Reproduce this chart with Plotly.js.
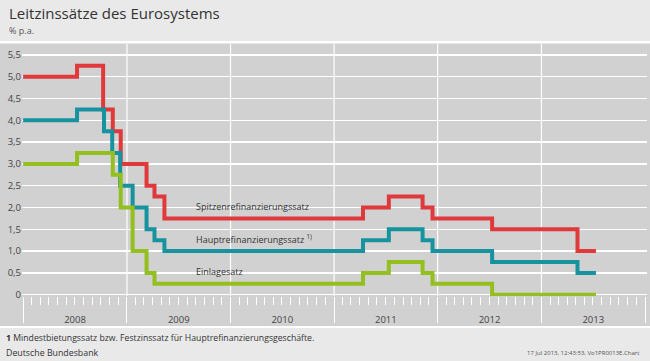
<!DOCTYPE html>
<html>
<head>
<meta charset="utf-8">
<script src="https://cdn.plot.ly/plotly-3.0.1.min.js"></script>
<style>html,body{margin:0;padding:0;background:#e9e9e9;}#chart{width:650px;height:361px;}</style>
</head>
<body>
<div id="chart"></div>
<script>
// Spitzenrefinanzierungssatz (marginal lending)
const spitzenDates = ['2008-01-01','2008-07-09','2008-10-09','2008-11-12','2008-12-10','2009-03-11','2009-04-08','2009-05-13','2011-04-13','2011-07-13','2011-11-09','2011-12-14','2012-07-11','2013-05-08','2013-07-12'];
const spitzenValues = [5.00,5.25,4.25,3.75,3.00,2.50,2.25,1.75,2.00,2.25,2.00,1.75,1.50,1.00,1.00];
// Hauptrefinanzierungssatz (main refinancing)
const hauptDates = ['2008-01-01','2008-07-09','2008-10-12','2008-11-10','2008-12-08','2009-01-21','2009-03-11','2009-04-08','2009-05-13','2011-04-13','2011-07-13','2011-11-09','2011-12-14','2012-07-11','2013-05-08','2013-07-12'];
const hauptValues = [4.00,4.25,3.75,3.25,2.50,2.00,1.50,1.25,1.00,1.25,1.50,1.25,1.00,0.75,0.50,0.50];
// Einlagesatz (deposit)
const einlageDates = ['2008-01-01','2008-07-09','2008-11-12','2008-12-10','2009-01-21','2009-03-11','2009-04-08','2011-04-13','2011-07-13','2011-11-09','2011-12-14','2012-07-11','2013-07-12'];
const einlageValues = [3.00,3.25,2.75,2.00,1.00,0.50,0.25,0.50,0.75,0.50,0.25,0.00,0.00];

const yTickVals = [0,0.5,1,1.5,2,2.5,3,3.5,4,4.5,5,5.5];
const yTickText = ['0','0,5','1,0','1,5','2,0','2,5','3,0','3,5','4,0','4,5','5,0','5,5'];
const yearGrid = ['2009-01-01','2010-01-01','2011-01-01','2012-01-01','2013-01-01'];

const seriesNames = ['Spitzenrefinanzierungssatz','Hauptrefinanzierungssatz <sup>1)</sup>','Einlagesatz'];
const labelDates = ['2009-08-24','2009-08-24','2009-08-24'];
const labelValues = [2.03,1.27,0.54];

const FONT = 'Open Sans, Noto Sans, sans-serif';
const colors = ['#e0393c','#16939f','#93c01f'];

const traces = [
  {x: spitzenDates, y: spitzenValues},
  {x: hauptDates, y: hauptValues},
  {x: einlageDates, y: einlageValues}
].map((t,i)=>({x:t.x, y:t.y, type:'scatter', mode:'lines', line:{shape:'hv', color:colors[i], width:4}, hoverinfo:'skip', showlegend:false}));

const px2px = v => (v-22)/625;     // pixel x -> paper x
const py2py = v => (296-v)/252;    // pixel y -> paper y

const shapes = [
  {type:'rect', xref:'paper', yref:'paper', x0:px2px(0), x1:px2px(650), y0:py2py(328), y1:py2py(41), fillcolor:'#ffffff', line:{width:0}, layer:'below'},
  {type:'rect', xref:'paper', yref:'paper', x0:px2px(0), x1:px2px(650), y0:py2py(326), y1:py2py(43.5), fillcolor:'#d1d1d1', line:{width:0}, layer:'below'}
];
yearGrid.forEach(d=>shapes.push({type:'line', xref:'x', yref:'paper', x0:d, x1:d, y0:0, y1:1, line:{color:'#ffffff', width:1.2}, layer:'below'}));

const annotations = [
  {xref:'paper', yref:'paper', x:px2px(7), y:py2py(13), xanchor:'left', yanchor:'middle', text:'Leitzinssätze des Eurosystems', showarrow:false, font:{family:FONT, size:15, color:'#333333'}},
  {xref:'paper', yref:'paper', x:px2px(7), y:py2py(31), xanchor:'left', yanchor:'middle', text:'% p.a.', showarrow:false, font:{family:FONT, size:9, color:'#555555'}},
  {xref:'paper', yref:'paper', x:px2px(4), y:py2py(338), xanchor:'left', yanchor:'middle', text:'<b>1</b> Mindestbietungssatz bzw. Festzinssatz für Hauptrefinanzierungsgeschäfte.', showarrow:false, font:{family:FONT, size:8.7, color:'#333333'}},
  {xref:'paper', yref:'paper', x:px2px(4), y:py2py(353), xanchor:'left', yanchor:'middle', text:'Deutsche Bundesbank', showarrow:false, font:{family:FONT, size:8.8, color:'#333333'}},
  {xref:'paper', yref:'paper', x:px2px(641), y:py2py(353), xanchor:'right', yanchor:'middle', text:'17 Jul 2013, 12:43:53, Vo1PR0013E.Chart', showarrow:false, font:{family:FONT, size:6, color:'#555555'}}
];
seriesNames.forEach((n,i)=>annotations.push({xref:'x', yref:'y', x:labelDates[i], y:labelValues[i], xanchor:'left', yanchor:'middle', text:n, showarrow:false, font:{family:FONT, size:9, color:'#333333'}}));

const layout = {
  width:650, height:361,
  margin:{l:22, r:3, t:44, b:65},
  paper_bgcolor:'#e9e9e9', plot_bgcolor:'rgba(0,0,0,0)',
  font:{family:FONT, size:10, color:'#444444'},
  xaxis:{
    type:'date', range:['2007-12-28','2014-01-08'],
    tick0:'2008-01-01', dtick:'M12', ticklabelmode:'period', tickformat:'%Y',
    ticks:'outside', ticklen:26, tickwidth:1, tickcolor:'#ffffff',
    ticklabelstandoff:-11,
    showgrid:false, zeroline:false, showline:false,
    tickfont:{family:FONT, size:9.5, color:'#444444'},
    minor:{dtick:'M1', tick0:'2008-01-01', ticks:'outside', ticklen:8, tickwidth:1, tickcolor:'#ffffff', showgrid:false},
    fixedrange:true
  },
  yaxis:{
    range:[-0.03,5.75], tickmode:'array', tickvals:yTickVals, ticktext:yTickText,
    showgrid:true, gridcolor:'#ffffff', gridwidth:1.5, zeroline:false, showline:false, ticks:'',
    tickfont:{family:FONT, size:9.5, color:'#444444'},
    fixedrange:true
  },
  shapes:shapes, annotations:annotations
};

Plotly.newPlot('chart', traces, layout, {displayModeBar:false, staticPlot:true});
</script>
</body>
</html>
